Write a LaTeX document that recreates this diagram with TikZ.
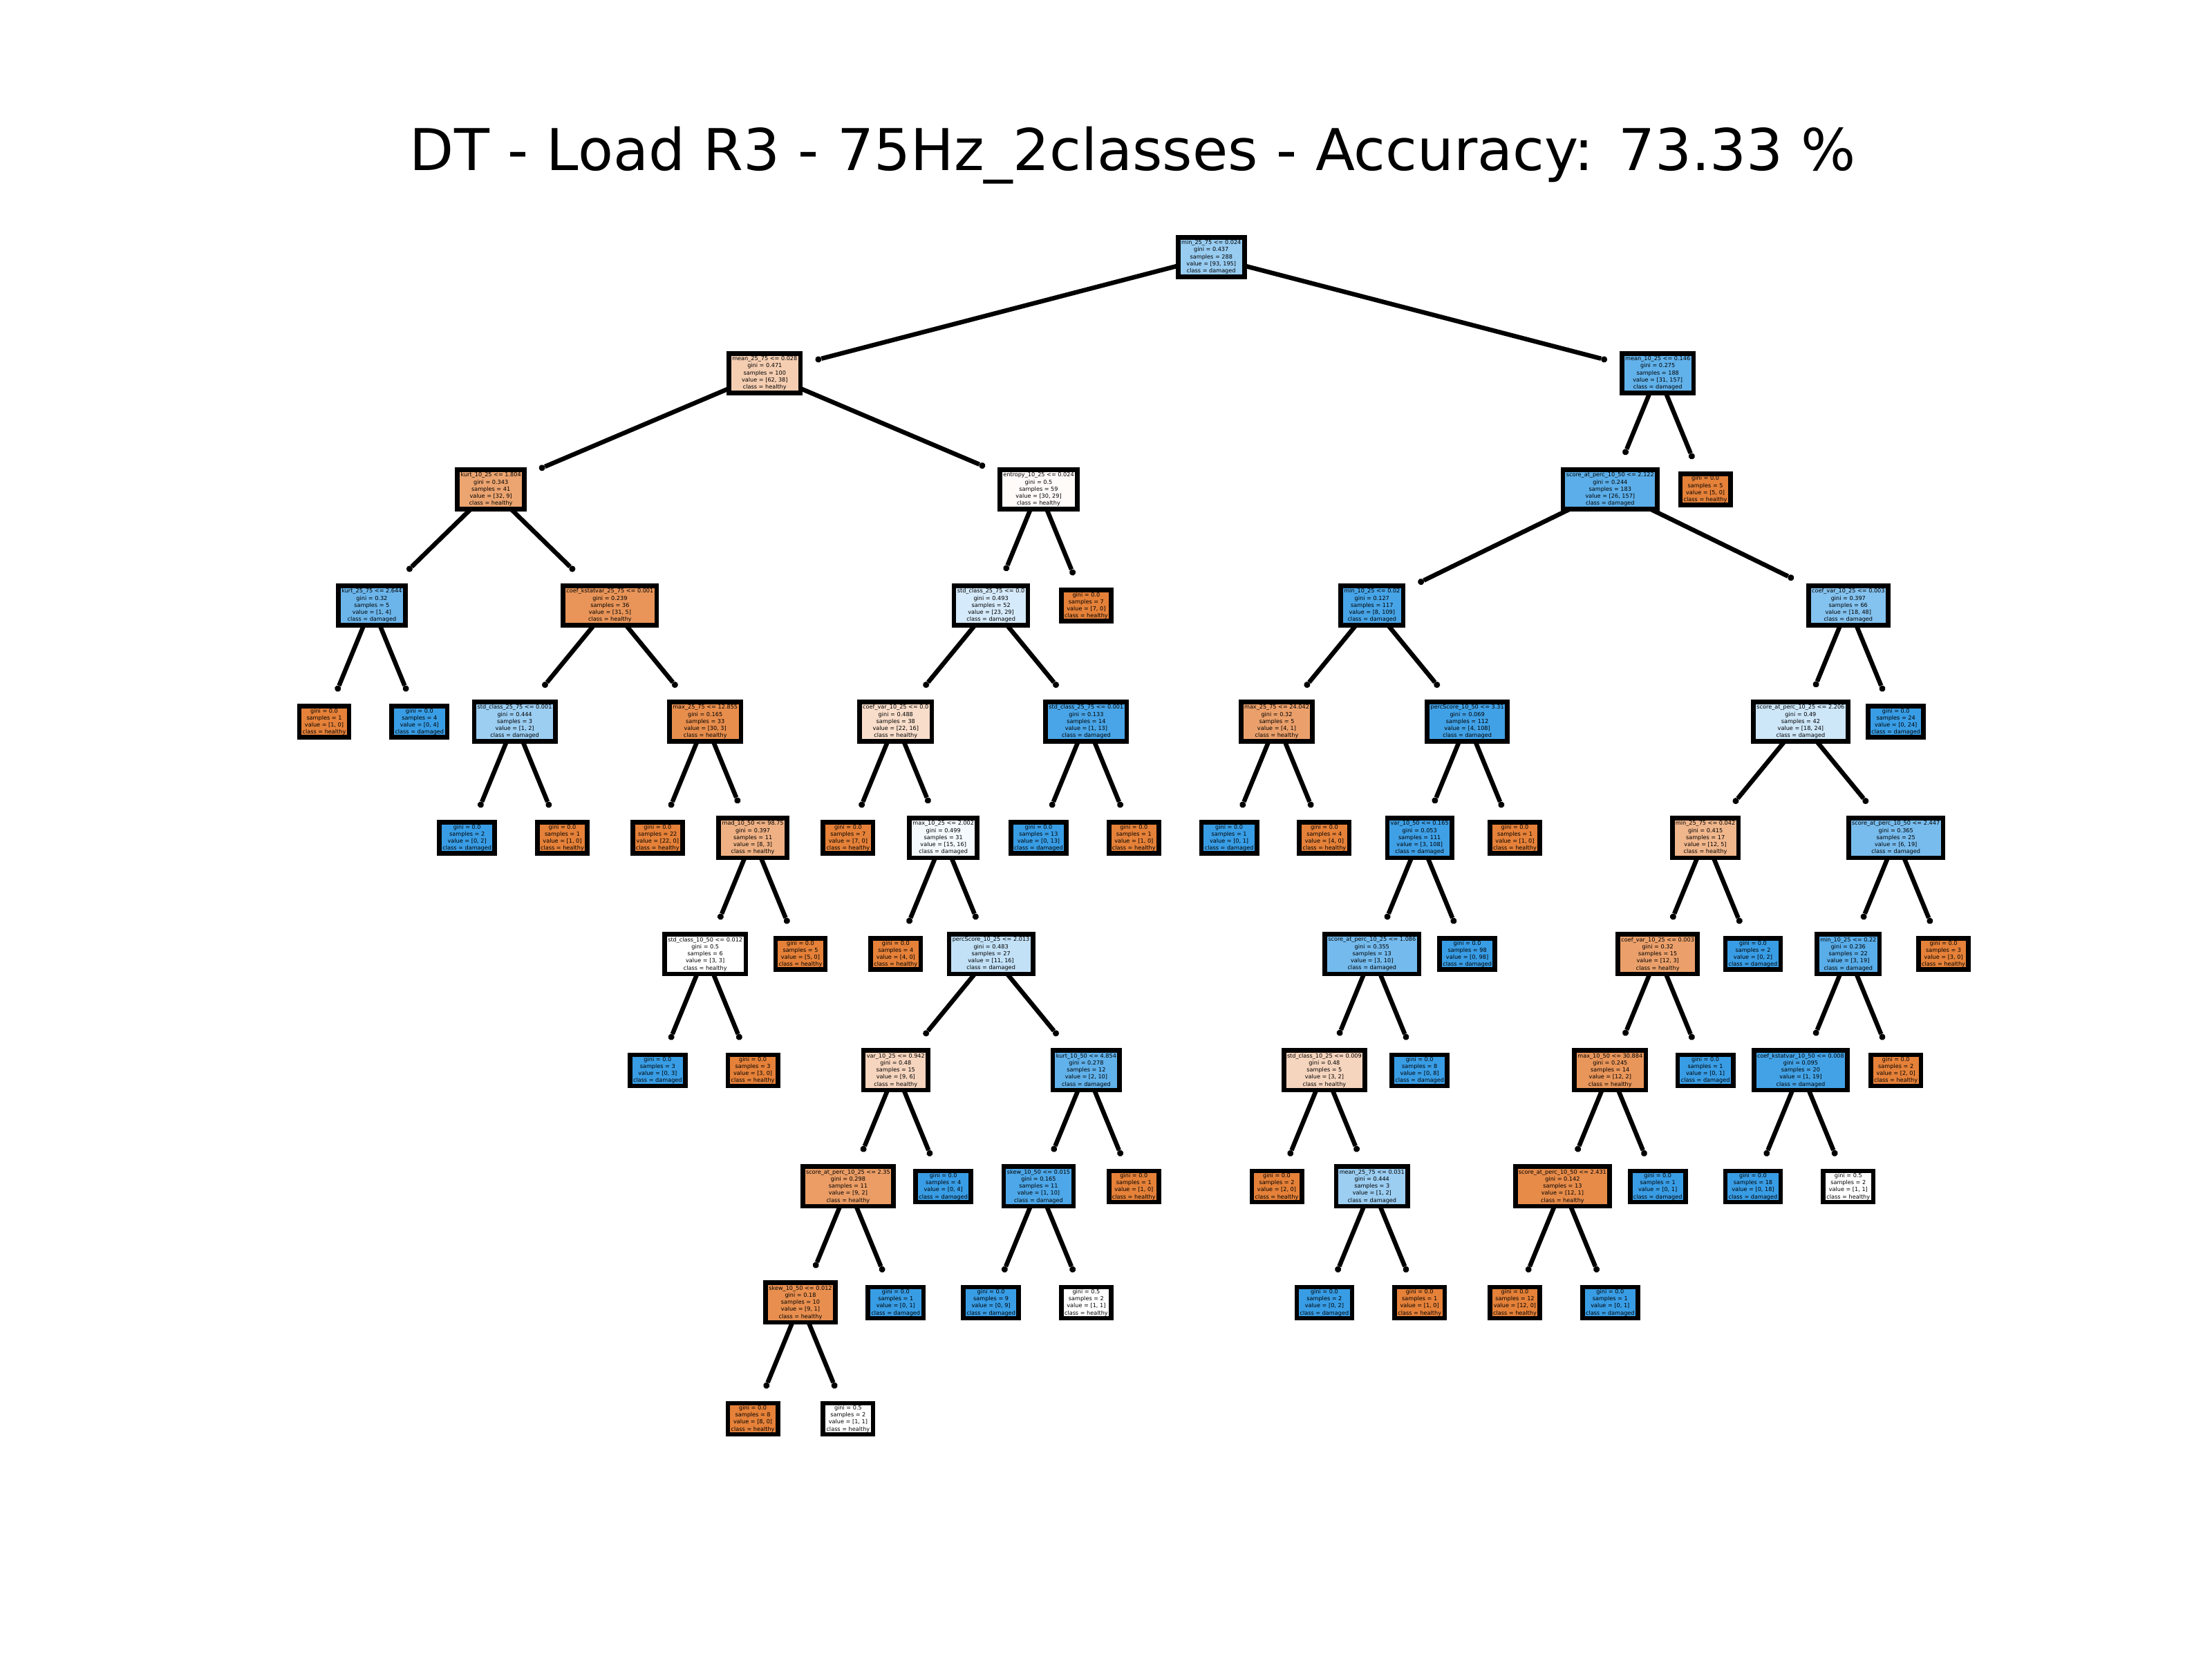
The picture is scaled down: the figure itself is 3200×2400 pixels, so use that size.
\documentclass[tikz,border=0pt]{standalone}
\usepackage{fontspec}
\setmainfont{DejaVu Sans}
\usetikzlibrary{arrows.meta,backgrounds}
\definecolor{hl}{RGB}{229,129,57}
\definecolor{dm}{RGB}{57,157,229}
\newcommand\dtin[5]{#1\\gini = #2\\samples = #3\\value = [#4]\\class = #5}
\newcommand\dtlf[4]{gini = #1\\samples = #2\\value = [#3]\\class = #4}
\newcommand\nodefont{\fontsize{2.93pt}{3.69pt}\selectfont}
\tikzset{
  nd/.style={draw=black, line width=2.41pt, inner xsep=1.71pt, inner ysep=0.5pt,
    align=center, font=\nodefont, text=black, outer sep=7.7pt},
  inode/.style={nd, minimum height=20.6pt},
  lnode/.style={nd, minimum height=16.2pt},
  edge/.style={draw=black, line width=2.34pt, -{Circle[length=3.3pt,line width=0pt]}},
  ttl/.style={font=\fontsize{30pt}{36pt}\selectfont, anchor=base, inner sep=0pt}
}
\begin{document}
\begin{tikzpicture}[x=0.36pt,y=-0.36pt]
\useasboundingbox (0,0) rectangle (3200,2400);
\node[ttl] (title) at (1639,247) {DT - Load R3 - 75Hz\_2classes - Accuracy: 73.33 \%};
\begin{scope}[shift={(469,372)}, x=24.804pt, y=-60.498pt]
% level 0
\node[inode, fill=dm!52!white] (n0) at (18.625,0) {\dtin{min\_25\_75 <= 0.024}{0.437}{288}{93, 195}{damaged}};
% level 1
\node[inode, fill=hl!39!white] (n1) at (9.25,1) {\dtin{mean\_25\_75 <= 0.028}{0.471}{100}{62, 38}{healthy}};
\node[inode, fill=dm!80!white] (n2) at (28,1) {\dtin{mean\_10\_25 <= 0.146}{0.275}{188}{31, 157}{damaged}};
% level 2
\node[inode, fill=hl!72!white] (n3) at (3.5,2) {\dtin{kurt\_10\_25 <= 1.804}{0.343}{41}{32, 9}{healthy}};
\node[inode, fill=hl!3!white] (n4) at (15,2) {\dtin{entropy\_10\_25 <= 0.024}{0.5}{59}{30, 29}{healthy}};
\node[inode, fill=dm!83!white] (n5) at (27,2) {\dtin{score\_at\_perc\_10\_50 <= 2.122}{0.244}{183}{26, 157}{damaged}};
\node[lnode, fill=hl] (n6) at (29,2) {\dtlf{0.0}{5}{5, 0}{healthy}};
% level 3
\node[inode, fill=dm!75!white] (n7) at (1,3) {\dtin{kurt\_25\_75 <= 2.644}{0.32}{5}{1, 4}{damaged}};
\node[inode, fill=hl!84!white] (n8) at (6,3) {\dtin{coef\_kstatvar\_25\_75 <= 0.001}{0.239}{36}{31, 5}{healthy}};
\node[inode, fill=dm!21!white] (n9) at (14,3) {\dtin{std\_class\_25\_75 <= 0.0}{0.493}{52}{23, 29}{damaged}};
\node[lnode, fill=hl] (n10) at (16,3) {\dtlf{0.0}{7}{7, 0}{healthy}};
\node[inode, fill=dm!93!white] (n11) at (22,3) {\dtin{min\_10\_25 <= 0.02}{0.127}{117}{8, 109}{damaged}};
\node[inode, fill=dm!62!white] (n12) at (32,3) {\dtin{coef\_var\_10\_25 <= 0.003}{0.397}{66}{18, 48}{damaged}};
% level 4
\node[lnode, fill=hl] (n13) at (0,4) {\dtlf{0.0}{1}{1, 0}{healthy}};
\node[lnode, fill=dm] (n14) at (2,4) {\dtlf{0.0}{4}{0, 4}{damaged}};
\node[inode, fill=dm!50!white] (n15) at (4,4) {\dtin{std\_class\_25\_75 <= 0.001}{0.444}{3}{1, 2}{damaged}};
\node[inode, fill=hl!90!white] (n16) at (8,4) {\dtin{max\_25\_75 <= 12.855}{0.165}{33}{30, 3}{healthy}};
\node[inode, fill=hl!27!white] (n17) at (12,4) {\dtin{coef\_var\_10\_25 <= 0.0}{0.488}{38}{22, 16}{healthy}};
\node[inode, fill=dm!92!white] (n18) at (16,4) {\dtin{std\_class\_25\_75 <= 0.001}{0.133}{14}{1, 13}{damaged}};
\node[inode, fill=hl!75!white] (n19) at (20,4) {\dtin{max\_25\_75 <= 24.042}{0.32}{5}{4, 1}{healthy}};
\node[inode, fill=dm!96!white] (n20) at (24,4) {\dtin{percScore\_10\_50 <= 3.31}{0.069}{112}{4, 108}{damaged}};
\node[inode, fill=dm!25!white] (n21) at (31,4) {\dtin{score\_at\_perc\_10\_25 <= 2.206}{0.49}{42}{18, 24}{damaged}};
\node[lnode, fill=dm] (n22) at (33,4) {\dtlf{0.0}{24}{0, 24}{damaged}};
% level 5
\node[lnode, fill=dm] (n23) at (3,5) {\dtlf{0.0}{2}{0, 2}{damaged}};
\node[lnode, fill=hl] (n24) at (5,5) {\dtlf{0.0}{1}{1, 0}{healthy}};
\node[lnode, fill=hl] (n25) at (7,5) {\dtlf{0.0}{22}{22, 0}{healthy}};
\node[inode, fill=hl!62!white] (n26) at (9,5) {\dtin{mad\_10\_50 <= 98.75}{0.397}{11}{8, 3}{healthy}};
\node[lnode, fill=hl] (n27) at (11,5) {\dtlf{0.0}{7}{7, 0}{healthy}};
\node[inode, fill=dm!6!white] (n28) at (13,5) {\dtin{max\_10\_25 <= 2.002}{0.499}{31}{15, 16}{damaged}};
\node[lnode, fill=dm] (n29) at (15,5) {\dtlf{0.0}{13}{0, 13}{damaged}};
\node[lnode, fill=hl] (n30) at (17,5) {\dtlf{0.0}{1}{1, 0}{healthy}};
\node[lnode, fill=dm] (n31) at (19,5) {\dtlf{0.0}{1}{0, 1}{damaged}};
\node[lnode, fill=hl] (n32) at (21,5) {\dtlf{0.0}{4}{4, 0}{healthy}};
\node[inode, fill=dm!97!white] (n33) at (23,5) {\dtin{var\_10\_50 <= 0.165}{0.053}{111}{3, 108}{damaged}};
\node[lnode, fill=hl] (n34) at (25,5) {\dtlf{0.0}{1}{1, 0}{healthy}};
\node[inode, fill=hl!58!white] (n35) at (29,5) {\dtin{min\_25\_75 <= 0.042}{0.415}{17}{12, 5}{healthy}};
\node[inode, fill=dm!68!white] (n36) at (33,5) {\dtin{score\_at\_perc\_10\_50 <= 2.447}{0.365}{25}{6, 19}{damaged}};
% level 6
\node[inode, fill=white] (n37) at (8,6) {\dtin{std\_class\_10\_50 <= 0.012}{0.5}{6}{3, 3}{healthy}};
\node[lnode, fill=hl] (n38) at (10,6) {\dtlf{0.0}{5}{5, 0}{healthy}};
\node[lnode, fill=hl] (n39) at (12,6) {\dtlf{0.0}{4}{4, 0}{healthy}};
\node[inode, fill=dm!31!white] (n40) at (14,6) {\dtin{percScore\_10\_25 <= 2.013}{0.483}{27}{11, 16}{damaged}};
\node[inode, fill=dm!70!white] (n41) at (22,6) {\dtin{score\_at\_perc\_10\_25 <= 1.086}{0.355}{13}{3, 10}{damaged}};
\node[lnode, fill=dm] (n42) at (24,6) {\dtlf{0.0}{98}{0, 98}{damaged}};
\node[inode, fill=hl!75!white] (n43) at (28,6) {\dtin{coef\_var\_10\_25 <= 0.003}{0.32}{15}{12, 3}{healthy}};
\node[lnode, fill=dm] (n44) at (30,6) {\dtlf{0.0}{2}{0, 2}{damaged}};
\node[inode, fill=dm!84!white] (n45) at (32,6) {\dtin{min\_10\_25 <= 0.22}{0.236}{22}{3, 19}{damaged}};
\node[lnode, fill=hl] (n46) at (34,6) {\dtlf{0.0}{3}{3, 0}{healthy}};
% level 7
\node[lnode, fill=dm] (n47) at (7,7) {\dtlf{0.0}{3}{0, 3}{damaged}};
\node[lnode, fill=hl] (n48) at (9,7) {\dtlf{0.0}{3}{3, 0}{healthy}};
\node[inode, fill=hl!33!white] (n49) at (12,7) {\dtin{var\_10\_25 <= 0.942}{0.48}{15}{9, 6}{healthy}};
\node[inode, fill=dm!80!white] (n50) at (16,7) {\dtin{kurt\_10\_50 <= 4.854}{0.278}{12}{2, 10}{damaged}};
\node[inode, fill=hl!33!white] (n51) at (21,7) {\dtin{std\_class\_10\_25 <= 0.009}{0.48}{5}{3, 2}{healthy}};
\node[lnode, fill=dm] (n52) at (23,7) {\dtlf{0.0}{8}{0, 8}{damaged}};
\node[inode, fill=hl!83!white] (n53) at (27,7) {\dtin{max\_10\_50 <= 30.884}{0.245}{14}{12, 2}{healthy}};
\node[lnode, fill=dm] (n54) at (29,7) {\dtlf{0.0}{1}{0, 1}{damaged}};
\node[inode, fill=dm!95!white] (n55) at (31,7) {\dtin{coef\_kstatvar\_10\_50 <= 0.008}{0.095}{20}{1, 19}{damaged}};
\node[lnode, fill=hl] (n56) at (33,7) {\dtlf{0.0}{2}{2, 0}{healthy}};
% level 8
\node[inode, fill=hl!78!white] (n57) at (11,8) {\dtin{score\_at\_perc\_10\_25 <= 2.35}{0.298}{11}{9, 2}{healthy}};
\node[lnode, fill=dm] (n58) at (13,8) {\dtlf{0.0}{4}{0, 4}{damaged}};
\node[inode, fill=dm!90!white] (n59) at (15,8) {\dtin{skew\_10\_50 <= 0.015}{0.165}{11}{1, 10}{damaged}};
\node[lnode, fill=hl] (n60) at (17,8) {\dtlf{0.0}{1}{1, 0}{healthy}};
\node[lnode, fill=hl] (n61) at (20,8) {\dtlf{0.0}{2}{2, 0}{healthy}};
\node[inode, fill=dm!50!white] (n62) at (22,8) {\dtin{mean\_25\_75 <= 0.031}{0.444}{3}{1, 2}{damaged}};
\node[inode, fill=hl!92!white] (n63) at (26,8) {\dtin{score\_at\_perc\_10\_50 <= 2.431}{0.142}{13}{12, 1}{healthy}};
\node[lnode, fill=dm] (n64) at (28,8) {\dtlf{0.0}{1}{0, 1}{damaged}};
\node[lnode, fill=dm] (n65) at (30,8) {\dtlf{0.0}{18}{0, 18}{damaged}};
\node[lnode, fill=white] (n66) at (32,8) {\dtlf{0.5}{2}{1, 1}{healthy}};
% level 9
\node[inode, fill=hl!89!white] (n67) at (10,9) {\dtin{skew\_10\_50 <= 0.012}{0.18}{10}{9, 1}{healthy}};
\node[lnode, fill=dm] (n68) at (12,9) {\dtlf{0.0}{1}{0, 1}{damaged}};
\node[lnode, fill=dm] (n69) at (14,9) {\dtlf{0.0}{9}{0, 9}{damaged}};
\node[lnode, fill=white] (n70) at (16,9) {\dtlf{0.5}{2}{1, 1}{healthy}};
\node[lnode, fill=dm] (n71) at (21,9) {\dtlf{0.0}{2}{0, 2}{damaged}};
\node[lnode, fill=hl] (n72) at (23,9) {\dtlf{0.0}{1}{1, 0}{healthy}};
\node[lnode, fill=hl] (n73) at (25,9) {\dtlf{0.0}{12}{12, 0}{healthy}};
\node[lnode, fill=dm] (n74) at (27,9) {\dtlf{0.0}{1}{0, 1}{damaged}};
% level 10
\node[lnode, fill=hl] (n75) at (9,10) {\dtlf{0.0}{8}{8, 0}{healthy}};
\node[lnode, fill=white] (n76) at (11,10) {\dtlf{0.5}{2}{1, 1}{healthy}};
\end{scope}
\begin{pgfonlayer}{background}
\fill[white] (0,0) rectangle (3200,2400);
\foreach \pa/\ch in {n0/n1,n0/n2,n1/n3,n1/n4,n2/n5,n2/n6,n3/n7,n3/n8,n4/n9,n4/n10,
  n5/n11,n5/n12,n7/n13,n7/n14,n8/n15,n8/n16,n9/n17,n9/n18,n11/n19,n11/n20,
  n12/n21,n12/n22,n15/n23,n15/n24,n16/n25,n16/n26,n17/n27,n17/n28,n18/n29,n18/n30,
  n19/n31,n19/n32,n20/n33,n20/n34,n21/n35,n21/n36,n26/n37,n26/n38,n28/n39,n28/n40,
  n33/n41,n33/n42,n35/n43,n35/n44,n36/n45,n36/n46,n37/n47,n37/n48,n40/n49,n40/n50,
  n41/n51,n41/n52,n43/n53,n43/n54,n45/n55,n45/n56,n49/n57,n49/n58,n50/n59,n50/n60,
  n51/n61,n51/n62,n53/n63,n53/n64,n55/n65,n55/n66,n57/n67,n57/n68,n59/n69,n59/n70,
  n62/n71,n62/n72,n63/n73,n63/n74,n67/n75,n67/n76}
  \draw[edge] (\pa.center) -- (\ch);
\end{pgfonlayer}
\end{tikzpicture}
\end{document}
